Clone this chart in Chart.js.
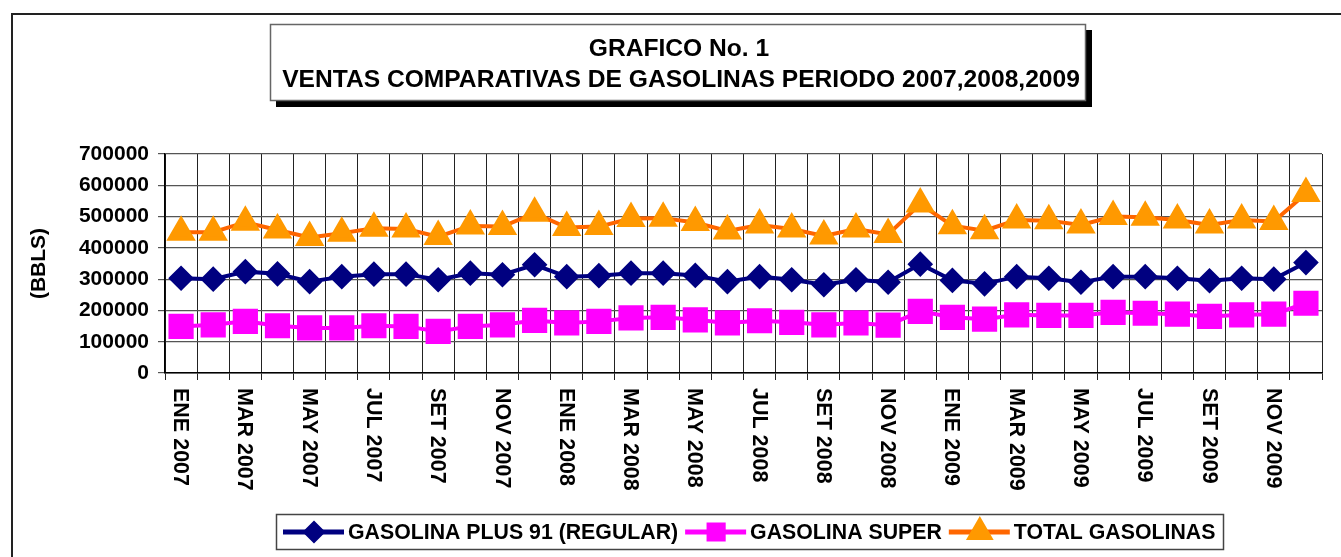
<!DOCTYPE html>
<html>
<head>
<meta charset="utf-8">
<script src="https://cdn.jsdelivr.net/npm/chart.js@4.4.1/dist/chart.umd.min.js"></script>
<style>
  html, body { margin: 0; padding: 0; background: #fff; }
  #wrap { width: 1341px; height: 557px; }
</style>
</head>
<body>
<div id="wrap"><canvas id="grafico" width="1341" height="557"></canvas></div>
<script>
// meses ENE 2007 .. DIC 2009
const categorias = [
  "ENE 2007","FEB 2007","MAR 2007","ABR 2007","MAY 2007","JUN 2007","JUL 2007","AGO 2007","SET 2007","OCT 2007","NOV 2007","DIC 2007",
  "ENE 2008","FEB 2008","MAR 2008","ABR 2008","MAY 2008","JUN 2008","JUL 2008","AGO 2008","SET 2008","OCT 2008","NOV 2008","DIC 2008",
  "ENE 2009","FEB 2009","MAR 2009","ABR 2009","MAY 2009","JUN 2009","JUL 2009","AGO 2009","SET 2009","OCT 2009","NOV 2009","DIC 2009"
];
const regular = [303000,300000,324000,317000,292000,308000,316000,316000,298000,319000,314000,346000,
                 308000,311000,319000,319000,312000,292000,308000,298000,282000,298000,290000,348000,
                 296000,285000,308000,303000,290000,308000,308000,303000,295000,303000,300000,353000];
const superG = [149000,154000,165000,151000,144000,144000,151000,149000,133000,149000,154000,168000,
                160000,165000,176000,178000,170000,160000,167000,162000,154000,160000,153000,197000,
                178000,172000,186000,184000,184000,194000,191000,188000,181000,186000,188000,223000];
const total = [450000,450000,482000,457000,433000,447000,463000,460000,436000,470000,468000,511000,
               465000,468000,494000,495000,481000,454000,473000,460000,438000,460000,443000,540000,
               471000,455000,489000,487000,473000,500000,498000,489000,473000,489000,484000,574000];
const yTicks = [0,100000,200000,300000,400000,500000,600000,700000];
const titulo = ["GRAFICO No. 1", "VENTAS COMPARATIVAS DE GASOLINAS PERIODO 2007,2008,2009"];

const FONT = "'Liberation Sans', Arial, sans-serif";

const decor = {
  id: 'decor',
  beforeDraw(chart) {
    const ctx = chart.ctx;
    ctx.save();
    ctx.fillStyle = '#fff';
    ctx.fillRect(0, 0, chart.width, chart.height);
    // marco exterior
    ctx.strokeStyle = '#222';
    ctx.lineWidth = 2;
    ctx.beginPath();
    ctx.moveTo(12, chart.height);
    ctx.lineTo(12, 14);
    ctx.lineTo(chart.width, 14);
    ctx.stroke();
    // cuadro del titulo con sombra
    ctx.fillStyle = '#000';
    ctx.fillRect(276, 30, 816, 77);
    ctx.fillStyle = '#fff';
    ctx.fillRect(270, 24, 816, 77);
    ctx.strokeStyle = '#666';
    ctx.lineWidth = 1.5;
    ctx.strokeRect(270.5, 24.5, 815, 76);
    ctx.fillStyle = '#000';
    ctx.font = 'bold 24.6px ' + FONT;
    ctx.textAlign = 'center';
    ctx.textBaseline = 'alphabetic';
    ctx.fillText(titulo[0], 679, 56);
    ctx.fillText(titulo[1], 681, 87);
    ctx.restore();
  },
  afterDraw(chart) {
    const ctx = chart.ctx;
    const xs = chart.scales.x;
    ctx.save();
    // etiquetas del eje x, giradas hacia abajo
    ctx.fillStyle = '#000';
    ctx.font = 'bold 21.5px ' + FONT;
    ctx.textAlign = 'left';
    ctx.textBaseline = 'middle';
    categorias.forEach((lab, i) => {
      if (i % 2) return;
      const x = xs.getPixelForValue(i);
      ctx.save();
      ctx.translate(x, 388);
      ctx.rotate(Math.PI / 2);
      ctx.fillText(lab, 0, 1);
      ctx.restore();
    });
    // leyenda
    ctx.strokeStyle = '#444';
    ctx.lineWidth = 1.5;
    ctx.strokeRect(276.5, 514.5, 947, 35);
    ctx.font = 'bold 21.3px ' + FONT;
    ctx.textBaseline = 'middle';
    let x = 283;
    const y = 532;
    const sizes = [8, 10, 11];
    chart.data.datasets.forEach((ds, i) => {
      ctx.strokeStyle = ds.borderColor;
      ctx.lineWidth = 5;
      ctx.beginPath();
      ctx.moveTo(x, y);
      ctx.lineTo(x + 61, y);
      ctx.stroke();
      ctx.fillStyle = ds.pointBackgroundColor;
      ctx.strokeStyle = ds.pointBackgroundColor;
      Chart.helpers.drawPoint(ctx, {pointStyle: ds.pointStyle, radius: sizes[i], rotation: 0, borderWidth: 1}, x + 31, y);
      ctx.fillStyle = '#000';
      ctx.fillText(ds.label, x + 65, y + 1);
      x += 65 + ctx.measureText(ds.label).width + 7;
    });
    ctx.restore();
  }
};

new Chart(document.getElementById('grafico'), {
  type: 'line',
  data: {
    labels: categorias,
    datasets: [
      {
        label: 'GASOLINA PLUS 91 (REGULAR)',
        data: regular,
        borderColor: '#000080',
        backgroundColor: '#000080',
        pointBackgroundColor: '#000080',
        pointBorderColor: '#000080',
        pointStyle: 'rectRot',
        pointRadius: 10,
        borderWidth: 4
      },
      {
        label: 'GASOLINA SUPER',
        data: superG,
        borderColor: '#FF00FF',
        backgroundColor: '#FF00FF',
        pointBackgroundColor: '#FF00FF',
        pointBorderColor: '#FF00FF',
        pointStyle: 'rect',
        pointRadius: 15,
        borderWidth: 4
      },
      {
        label: 'TOTAL GASOLINAS',
        data: total,
        borderColor: '#FF6600',
        backgroundColor: '#FF9900',
        pointBackgroundColor: '#FF9900',
        pointBorderColor: '#FF9900',
        pointStyle: 'triangle',
        pointRadius: 13,
        borderWidth: 4
      }
    ]
  },
  options: {
    responsive: false,
    animation: false,
    events: [],
    layout: { padding: { left: 0, top: 154, right: 8, bottom: 0 } },
    plugins: { legend: { display: false }, title: { display: false }, tooltip: { enabled: false } },
    elements: { line: { tension: 0 }, point: { borderWidth: 1 } },
    scales: {
      x: {
        type: 'category',
        offset: true,
        grid: { offset: true, color: '#222', lineWidth: 1, tickLength: 7 },
        border: { color: '#000', width: 1.5 },
        ticks: { display: false, autoSkip: false },
        afterFit(s) { s.height = 184; }
      },
      y: {
        min: 0,
        max: 700000,
        afterBuildTicks(s) { s.ticks = yTicks.map(v => ({ value: v })); },
        grid: { color: '#555', lineWidth: 1.2, tickLength: 7 },
        border: { color: '#000', width: 1.5 },
        ticks: { color: '#000', padding: 9, font: { family: FONT, size: 21, weight: 'bold' }, callback: v => String(v) },
        title: { display: true, text: '(BBLS)', color: '#000', font: { family: FONT, size: 21, weight: 'bold' }, padding: { top: 27 } },
        afterFit(s) { s.width = 165; }
      }
    }
  },
  plugins: [decor]
});
</script>
</body>
</html>
